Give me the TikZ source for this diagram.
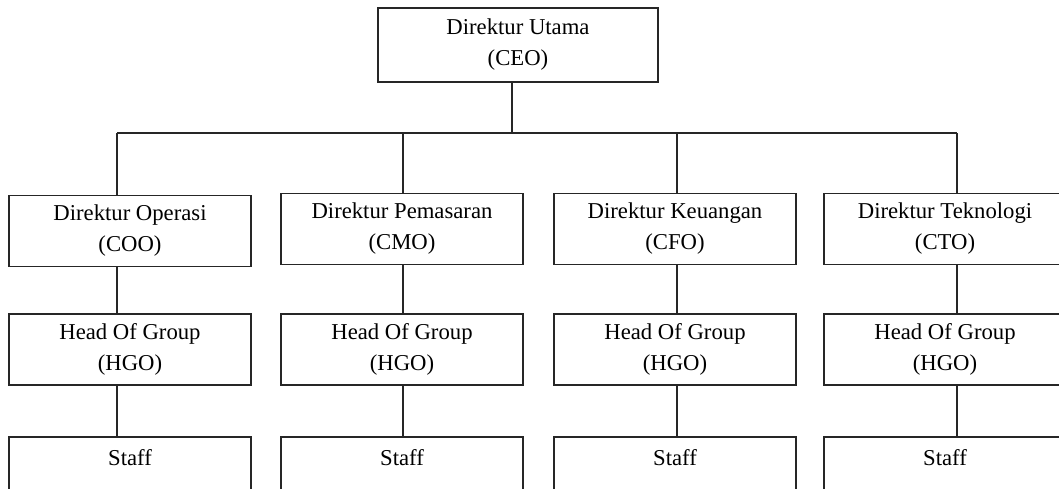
\documentclass[tikz,border=0pt]{standalone}
\usepackage{fontspec}
\setmainfont{Liberation Serif}
\usepackage{tikz}

\begin{document}
\begin{tikzpicture}[x=1pt,y=-1pt,line width=1.3pt,draw=black!85,
  font=\fontsize{22.7pt}{31pt}\selectfont,
  box/.style={draw=black!85,rectangle,inner sep=0pt,align=center,
    minimum width=242pt,minimum height=71pt},
  topbox/.style={box,minimum width=280pt,minimum height=74pt}]
\useasboundingbox (0,0) rectangle (1059,488);
\clip (0,0) rectangle (1059,488);
% top
\node[topbox] (ceo) at (518,45) {Direktur Utama\\(CEO)};
% direktur
\node[box] (coo) at (130,231) {Direktur Operasi\\(COO)};
\node[box] (cmo) at (402,229) {Direktur Pemasaran\\(CMO)};
\node[box] (cfo) at (675,229) {Direktur Keuangan\\(CFO)};
\node[box] (cto) at (945,229) {Direktur Teknologi\\(CTO)};
% head of group
\node[box] (hgo1) at (130,349.5) {Head Of Group\\(HGO)};
\node[box] (hgo2) at (402,349.5) {Head Of Group\\(HGO)};
\node[box] (hgo3) at (675,349.5) {Head Of Group\\(HGO)};
\node[box] (hgo4) at (945,349.5) {Head Of Group\\(HGO)};
% staff
\node[box] (stf1) at (130,472.5) {Staff\\~};
\node[box] (stf2) at (402,472.5) {Staff\\~};
\node[box] (stf3) at (675,472.5) {Staff\\~};
\node[box] (stf4) at (945,472.5) {Staff\\~};
% lines
\coordinate (c0) at (512,133);
\coordinate (c1) at (117,133);
\coordinate (c2) at (403,133);
\coordinate (c3) at (677,133);
\coordinate (c4) at (957,133);
\draw (ceo.south -| c0) -- (c0);
\draw (c1) -- (c4);
\draw (c1) -- (coo.north -| c1);
\draw (c2) -- (cmo.north -| c2);
\draw (c3) -- (cfo.north -| c3);
\draw (c4) -- (cto.north -| c4);
\draw (coo.south -| c1) -- (hgo1.north -| c1);
\draw (cmo.south -| c2) -- (hgo2.north -| c2);
\draw (cfo.south -| c3) -- (hgo3.north -| c3);
\draw (cto.south -| c4) -- (hgo4.north -| c4);
\draw (hgo1.south -| c1) -- (stf1.north -| c1);
\draw (hgo2.south -| c2) -- (stf2.north -| c2);
\draw (hgo3.south -| c3) -- (stf3.north -| c3);
\draw (hgo4.south -| c4) -- (stf4.north -| c4);
\end{tikzpicture}
\end{document}
